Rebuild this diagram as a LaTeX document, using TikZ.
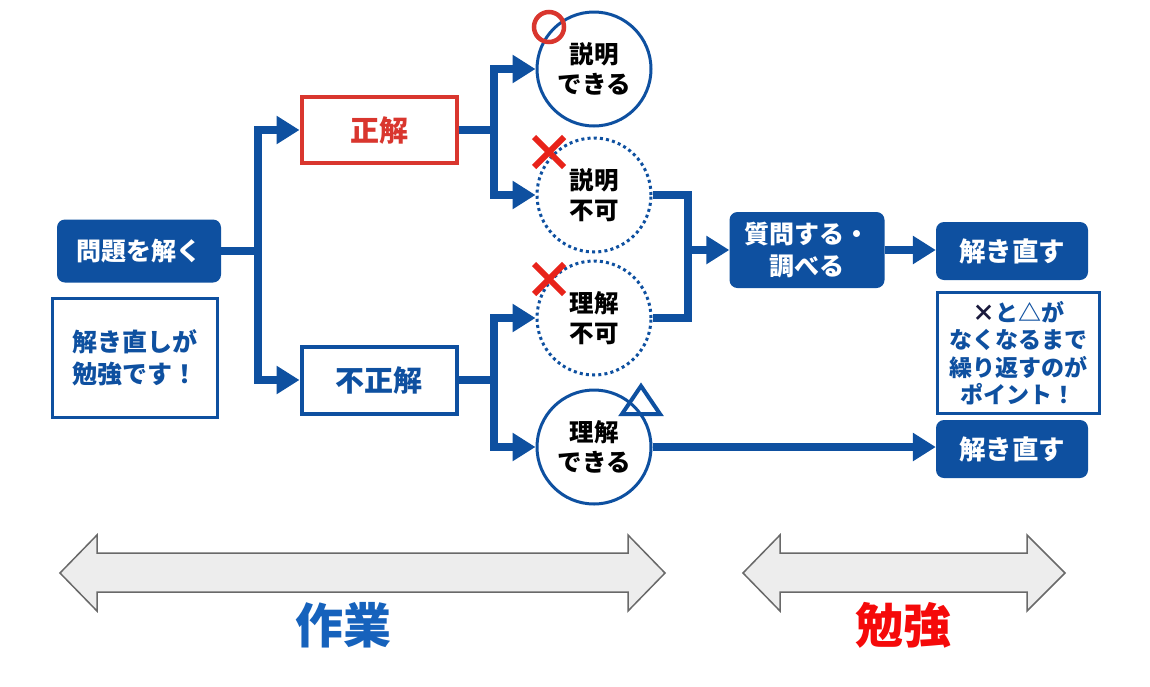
\documentclass[tikz,border=0pt]{standalone}
\usepackage{fontspec}
\setmainfont{Noto Sans CJK JP}
\usetikzlibrary{arrows.meta,calc}
\definecolor{mblue}{RGB}{14,80,160}
\definecolor{mred}{RGB}{217,54,46}
\definecolor{xred}{RGB}{232,35,26}
\definecolor{wblue}{RGB}{22,98,188}
\definecolor{sred}{RGB}{245,10,10}
\definecolor{agray}{RGB}{237,237,237}
\definecolor{aline}{RGB}{105,105,105}
\definecolor{navy}{RGB}{25,25,60}
\begin{document}
\begin{tikzpicture}[x=1pt,y=-1pt,
  conn/.style={draw=mblue, line width=8pt, line join=miter, -{Triangle[length=23pt,width=27pt]}},
  plain/.style={draw=mblue, line width=8pt, line join=miter},
  filledbox/.style={fill=mblue, rounded corners=8pt, text=white, font=\bfseries\fontsize{25}{32}\selectfont, align=center, inner sep=0pt},
  framebox/.style={draw=mblue, line width=4pt, fill=white, text=mblue, font=\bfseries\fontsize{29}{32}\selectfont, inner sep=0pt},
  notebox/.style={draw=mblue, line width=3pt, fill=white, text=mblue, align=center, inner sep=0pt},
  bubble/.style={circle, draw=mblue, line width=3pt, fill=white, minimum size=114pt, inner sep=0pt, align=center, font=\bfseries\fontsize{24.5}{30.5}\selectfont},
  dotbubble/.style={bubble, dash pattern=on 3pt off 3.2pt},
  bigarrow/.style={fill=agray, draw=aline, line width=1.5pt, line join=miter},
  biglabel/.style={font=\bfseries\fontsize{48}{52}\selectfont}
]
\useasboundingbox (0,0) rectangle (1150,686);
\fill[white] (0,0) rectangle (1150,686);

% nodes
\node[filledbox, minimum width=164pt, minimum height=63pt] (p) at (139,251) {問題を解く};
\node[notebox, minimum width=165pt, minimum height=119pt, font=\bfseries\fontsize{25}{32}\selectfont] (n1) at (135,358) {解き直しが\\勉強です！};
\node[framebox, draw=mred, text=mred, minimum width=155pt, minimum height=66pt] (s) at (379,130) {正解};
\node[framebox, minimum width=155pt, minimum height=67pt] (f) at (379,380) {不正解};

\node[bubble] (c1) at (594,69) {説明\\できる};
\node[dotbubble] (c2) at (594,195) {説明\\不可};
\node[dotbubble] (c3) at (594,318) {理解\\不可};
\node[bubble] (c4) at (594,447) {理解\\できる};

\node[filledbox, minimum width=155pt, minimum height=76pt] (q) at (807,250) {質問する・\\調べる};
\node[filledbox, minimum width=152pt, minimum height=58pt, font=\bfseries\fontsize{26.5}{30}\selectfont] (r1) at (1012,251) {解き直す};
\node[notebox, minimum width=162pt, minimum height=121pt, font=\bfseries\fontsize{23}{27.5}\selectfont] (n2) at (1018,353) {{\color{navy}×}と△が\\なくなるまで\\繰り返すのが\\ポイント！};
\node[filledbox, minimum width=152pt, minimum height=58pt, font=\bfseries\fontsize{26.5}{30}\selectfont] (r2) at (1012,449) {解き直す};

% connectors
\draw[conn] (p.east) -- ++(37,0) |- (s.west);
\draw[conn] (p.east) -- ++(37,0) |- (f.west);
\draw[conn] (s.east) -- ++(35,0) |- (c1.west);
\draw[conn] (s.east) -- ++(35,0) |- (c2.west);
\draw[conn] (f.east) -- ++(35,0) |- (c3.west);
\draw[conn] (f.east) -- ++(35,0) |- (c4.west);
\draw[plain] (c2.east) -- ++(35,0) |- (c3.east);
\coordinate (j) at ($(c2.east)+(35,0)$);
\draw[conn] (j |- q.west) -- (q.west);
\draw[conn] (q.east) -- (q.east -| r1.west);
\draw[conn] (c4.east) -- (c4.east -| r2.west);

% markers
\draw[mred, line width=4.5pt] (549,27) circle (15pt);
\draw[xred, line width=6pt] (534,137) -- (564,167) (564,137) -- (534,167);
\draw[xred, line width=6pt] (534,264) -- (564,294) (564,264) -- (534,294);
\draw[mblue, line width=4pt, line join=miter] (641,386) -- (660,414) -- (622,414) -- cycle;

% bottom arrows
\draw[bigarrow] (60,573) -- (97,535) -- (97,553) -- (628,553) -- (628,535) -- (665,573) -- (628,611) -- (628,592) -- (97,592) -- (97,611) -- cycle;
\draw[bigarrow] (743,573) -- (780,535) -- (780,553) -- (1027,553) -- (1027,535) -- (1065,573) -- (1027,611) -- (1027,592) -- (780,592) -- (780,611) -- cycle;
\node[biglabel, text=wblue] (w) at (343,625) {作業};
\node[biglabel, text=sred] (b) at (903,625) {勉強};
\end{tikzpicture}
\end{document}
